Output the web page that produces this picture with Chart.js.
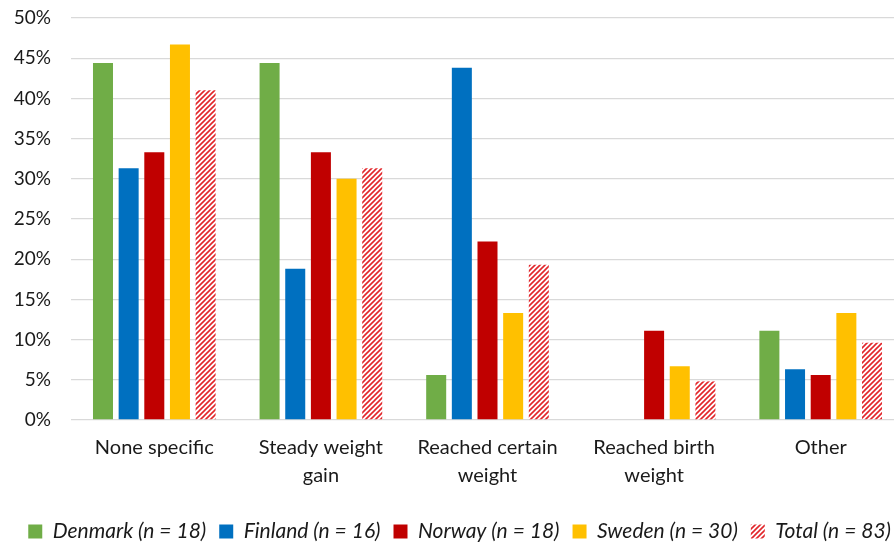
<!DOCTYPE html>
<html>
<head>
<meta charset="utf-8">
<script src="https://cdn.jsdelivr.net/npm/chart.js@4"></script>
<style>
  html, body { margin: 0; padding: 0; overflow: hidden; background: #fff; }
  #wrap { width: 940px; height: 552px; position: relative; }
</style>
</head>
<body>
<div id="wrap"><canvas id="c"></canvas></div>
<script>
const categories = [
  "None specific",
  ["Steady weight", "gain"],
  ["Reached certain", "weight"],
  ["Reached birth", "weight"],
  "Other"
];
const seriesNames = ["Denmark (n = 18)", "Finland (n = 16)", "Norway (n = 18)", "Sweden (n = 30)", "Total (n = 83)"];
const denmark = [44.4, 44.4, 5.6, 0, 11.1];
const finland = [31.3, 18.8, 43.8, 0, 6.3];
const norway  = [33.3, 33.3, 22.2, 11.1, 5.6];
const sweden  = [46.7, 30.0, 13.3, 6.7, 13.3];
const total   = [41.0, 31.3, 19.3, 4.8, 9.6];
const yTicks = [0, 5, 10, 15, 20, 25, 30, 35, 40, 45, 50];

function makePattern() {
  const p = document.createElement('canvas');
  const s = 5;
  p.width = s; p.height = s;
  const g = p.getContext('2d');
  g.fillStyle = '#ffffff';
  g.fillRect(0, 0, s, s);
  g.strokeStyle = '#E2262B';
  g.lineWidth = 1.6;
  g.beginPath();
  g.moveTo(-1, s + 1); g.lineTo(s + 1, -1);
  g.moveTo(-1, 1); g.lineTo(1, -1);
  g.moveTo(s - 1, s + 1); g.lineTo(s + 1, s - 1);
  g.stroke();
  return document.getElementById('c').getContext('2d').createPattern(p, 'repeat');
}
const hatch = makePattern();

const colors = ['#70AD47', '#0070C0', '#C00000', '#FFC000', hatch];
const values = [denmark, finland, norway, sweden, total];

const FONT = 'Lato, "Open Sans", sans-serif';

new Chart(document.getElementById('c'), {
  type: 'bar',
  data: {
    labels: categories,
    datasets: seriesNames.map((n, i) => ({
      label: n,
      data: values[i],
      backgroundColor: colors[i],
      borderWidth: 0,
      categoryPercentage: 0.77,
      barPercentage: 0.78
    }))
  },
  options: {
    responsive: true,
    maintainAspectRatio: false,
    animation: false,
    layout: { padding: { top: 0, right: 36, left: 0, bottom: 0 } },
    plugins: {
      legend: {
        position: 'bottom',
        align: 'end',
        labels: {
          font: { family: FONT, size: 21, style: 'italic' },
          color: '#1a1a1a',
          boxWidth: 14,
          boxHeight: 14,
          padding: 13
        }
      },
      tooltip: { enabled: false }
    },
    scales: {
      x: {
        afterFit: s => { s.height += 12; },
        grid: { display: false },
        border: { display: false },
        ticks: {
          font: { family: FONT, size: 20, lineHeight: 1.4 },
          color: '#1a1a1a',
          maxRotation: 0,
          padding: 6
        }
      },
      y: {
        min: 0,
        max: 50,
        afterFit: s => { s.width = 71; s.paddingTop = 18; s.paddingBottom = 0; },
        afterBuildTicks: s => { s.ticks = yTicks.map(v => ({ value: v })); },
        grid: { color: '#D9D9D9', lineWidth: 1.3, drawTicks: false },
        border: { display: false },
        ticks: {
          font: { family: FONT, size: 19 },
          color: '#1a1a1a',
          padding: 20,
          callback: v => v + '%'
        }
      }
    }
  }
});
</script>
</body>
</html>
